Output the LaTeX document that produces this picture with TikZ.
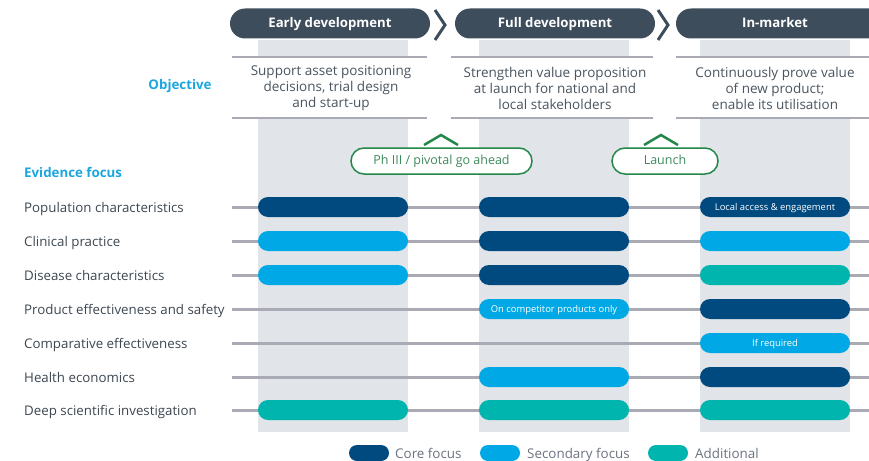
\documentclass[tikz,border=0pt]{standalone}
\usepackage{fontspec}
\setmainfont{Open Sans}
\usetikzlibrary{shapes.misc}
\definecolor{hdr}{HTML}{3D4D5C}
\definecolor{colbg}{HTML}{E1E4E8}
\definecolor{rowline}{HTML}{A9AAB3}
\definecolor{core}{HTML}{004A80}
\definecolor{second}{HTML}{00A9E6}
\definecolor{addit}{HTML}{00B5AD}
\definecolor{cyantxt}{HTML}{1BA6E0}
\definecolor{objtxt}{HTML}{4A5560}
\definecolor{labtxt}{HTML}{3C4650}
\definecolor{legtxt}{HTML}{6B7280}
\definecolor{mgreen}{HTML}{23874A}
\definecolor{mtxt}{HTML}{3F8A5C}
\tikzset{
  vcent/.style={text height=0.72em, text depth=0pt},
  hcent/.style={text height=0.9em, text depth=0pt},
  hdrpill/.style={rounded rectangle, fill=hdr, minimum height=30pt, inner sep=0pt, text=white, hcent, font=\fontsize{13.2}{15}\selectfont\bfseries},
  bar/.style={rounded rectangle, minimum width=150pt, minimum height=20pt, inner sep=0pt, text=white, vcent, font=\fontsize{9.4}{11}\selectfont},
  corebar/.style={bar, fill=core},
  secbar/.style={bar, fill=second},
  addbar/.style={bar, fill=addit},
  rowlab/.style={anchor=base west, text=labtxt, font=\fontsize{13.3}{15}\selectfont, inner sep=0pt},
  objtext/.style={align=center, text=objtxt, font=\fontsize{13.5}{16}\selectfont, inner sep=0pt},
  sepline/.style={draw=rowline, line width=2.5pt},
  rline/.style={draw=rowline, line width=3pt},
  milestone/.style={rounded rectangle, draw=mgreen, line width=1.5pt, fill=white, minimum height=26pt, inner sep=0pt, text=mtxt, vcent, font=\fontsize{12.5}{14}\selectfont},
  caret/.style={draw=mgreen, line width=2.5pt},
  chev/.style={draw=hdr, line width=3pt},
  cyanhead/.style={text=cyantxt, font=\fontsize{13.3}{15}\selectfont\bfseries, inner sep=0pt},
  legsw/.style={rounded rectangle, minimum width=40pt, minimum height=16pt, inner sep=0pt},
  legtext/.style={anchor=base west, text=legtxt, font=\fontsize{13.4}{15}\selectfont, inner sep=0pt}
}
\begin{document}
\begin{tikzpicture}[x=1pt,y=-1pt]
\useasboundingbox (0,0) rectangle (869,460);
\clip (0,0) rectangle (869,460);
% gray columns
\fill[colbg] (258,40) rectangle (408,432);
\fill[colbg] (479,40) rectangle (629,432);
\fill[colbg] (700,40) rectangle (850,432);
% header pills
\node[hdrpill, minimum width=200pt] (h1) at (330,23.5) {Early development};
\node[hdrpill, minimum width=200pt] (h2) at (555,23.5) {Full development};
\node[hdrpill, minimum width=210pt] (h3) at (781,23.5) {};
\node[text=white, inner sep=0pt, hcent, font=\fontsize{13.2}{15}\selectfont\bfseries] (h3t) at (775,23.5) {In-market};
% chevrons
\coordinate (c1a) at (435,10); \coordinate (c1b) at (445,25); \coordinate (c1c) at (435,40);
\draw[chev] (c1a) -- (c1b) -- (c1c);
\coordinate (c2a) at (658,10); \coordinate (c2b) at (668,25); \coordinate (c2c) at (658,40);
\draw[chev] (c2a) -- (c2b) -- (c2c);
% separator lines
\coordinate (s1a) at (232,57); \coordinate (s1b) at (427,57);
\coordinate (s2a) at (451,57); \coordinate (s2b) at (653,57);
\coordinate (s3a) at (676,57); \coordinate (s3b) at (869,57);
\coordinate (t1a) at (232,118); \coordinate (t1b) at (427,118);
\coordinate (t2a) at (451,118); \coordinate (t2b) at (653,118);
\coordinate (t3a) at (676,118); \coordinate (t3b) at (869,118);
\fill[white] (232,56) rectangle (869,119);
\draw[sepline] (s1a) -- (s1b); \draw[sepline] (s2a) -- (s2b); \draw[sepline] (s3a) -- (s3b);
\draw[sepline] (t1a) -- (t1b); \draw[sepline] (t2a) -- (t2b); \draw[sepline] (t3a) -- (t3b);
% objective
\node[cyanhead] (obj) at (180,86) {Objective};
\node[objtext] (o1) at (331,88.5) {Support asset positioning\\decisions, trial design\\and start-up};
\node[objtext] (o2) at (555,88.5) {Strengthen value proposition\\at launch for national and\\local stakeholders};
\node[objtext] (o3) at (775,88.5) {Continuously prove value\\of new product;\\enable its utilisation};
% milestones
\coordinate (k1a) at (424,145); \coordinate (k1b) at (441,135); \coordinate (k1c) at (458,145);
\draw[caret] (k1a) -- (k1b) -- (k1c);
\coordinate (k2a) at (644,145); \coordinate (k2b) at (661,135); \coordinate (k2c) at (678,145);
\draw[caret] (k2a) -- (k2b) -- (k2c);
\node[milestone, minimum width=181pt] (m1) at (441.5,161) {Ph III / pivotal go ahead};
\node[milestone, minimum width=106pt] (m2) at (665,161) {Launch};
% evidence focus
\node[cyanhead, anchor=west] (ef) at (24,172) {Evidence focus};
% rows
\foreach \y/\n in {207/r1,241/r2,275/r3,309/r4,343/r5,377/r6,410/r7}{
  \coordinate (\n a) at (232,\y); \coordinate (\n b) at (869,\y);
  \draw[rline] (\n a) -- (\n b);
}
\node[rowlab] (l1) at (24,212) {Population characteristics};
\node[rowlab] (l2) at (24,246) {Clinical practice};
\node[rowlab] (l3) at (24,280) {Disease characteristics};
\node[rowlab] (l4) at (24,314) {Product effectiveness and safety};
\node[rowlab] (l5) at (24,348) {Comparative effectiveness};
\node[rowlab] (l6) at (24,382) {Health economics};
\node[rowlab] (l7) at (24,415) {Deep scientific investigation};
% bars
\node[corebar] (b11) at (333,207) {};
\node[corebar] (b12) at (554,207) {};
\node[corebar] (b13) at (775,207) {Local access \& engagement};
\node[secbar] (b21) at (333,241) {};
\node[corebar] (b22) at (554,241) {};
\node[secbar] (b23) at (775,241) {};
\node[secbar] (b31) at (333,275) {};
\node[corebar] (b32) at (554,275) {};
\node[addbar] (b33) at (775,275) {};
\node[secbar] (b42) at (554,309) {On competitor products only};
\node[corebar] (b43) at (775,309) {};
\node[secbar] (b53) at (775,343) {If required};
\node[secbar] (b62) at (554,377) {};
\node[corebar] (b63) at (775,377) {};
\node[addbar] (b71) at (333,410) {};
\node[addbar] (b72) at (554,410) {};
\node[addbar] (b73) at (775,410) {};
% legend
\node[legsw, fill=core] (g1) at (369,453) {};
\node[legtext] (g1t) at (395,458) {Core focus};
\node[legsw, fill=second] (g2) at (500,453) {};
\node[legtext] (g2t) at (527,458) {Secondary focus};
\node[legsw, fill=addit] (g3) at (668,453) {};
\node[legtext] (g3t) at (695,458) {Additional};
\end{tikzpicture}
\end{document}
